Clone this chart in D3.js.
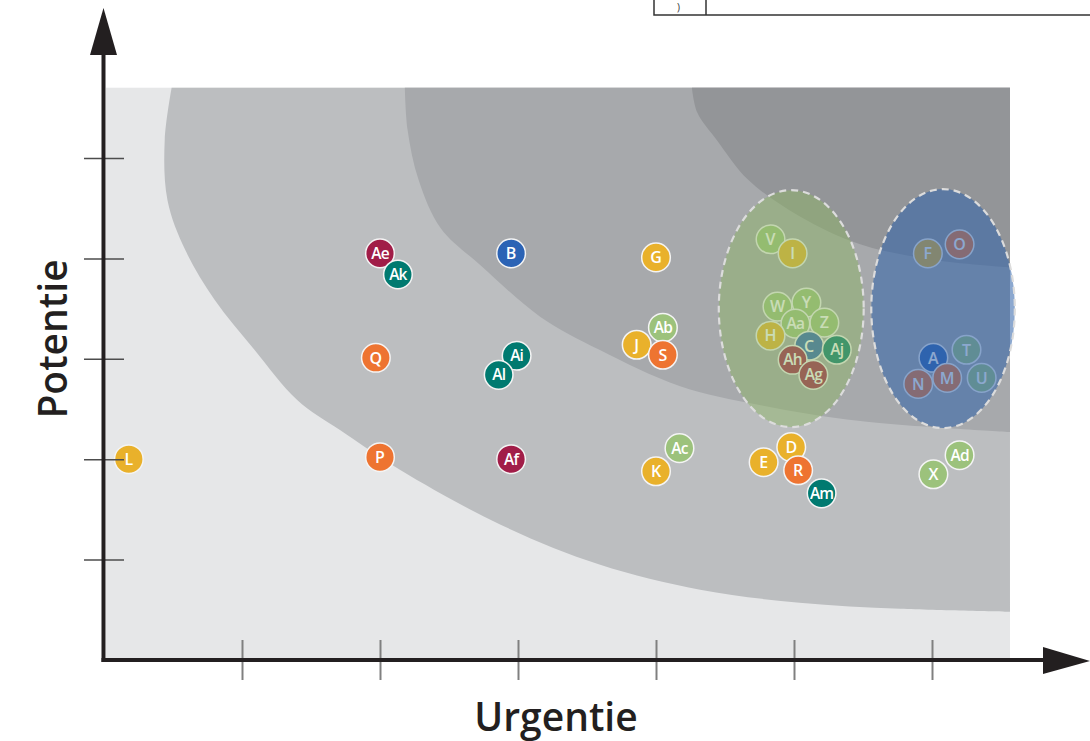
<!DOCTYPE html>
<html>
<head>
<meta charset="utf-8">
<script src="https://cdn.jsdelivr.net/npm/d3@7"></script>
<style>
  body { margin: 0; background: #fff; }
  svg { display: block; }
  .lbl { font-family: "Open Sans", sans-serif; font-weight: 600; fill: #fff; }
  .title { font-family: "Open Sans", sans-serif; font-weight: 600; fill: #231f20; }
</style>
</head>
<body>
<svg id="chart"></svg>
<script>
/**
 * Data
  */
const labels    = ["L", "Ae", "Ak", "Q", "P", "B", "Ai", "Al", "Af", "G", "Ab", "J", "S", "Ac", "K",
                   "V", "I", "W", "Y", "Z", "Aa", "H", "C", "Aj", "Ah", "Ag", "E", "D", "R", "Am",
                   "X", "Ad", "F", "O", "A", "T", "U", "M", "N"];
const urgentie  = [0.18, 2.00, 2.13, 1.97, 2.00, 2.95, 2.99, 2.86, 2.95, 4.00, 4.05, 3.86, 4.05, 4.17, 4.00,
                   4.83, 4.99, 4.88, 5.09, 5.22, 5.01, 4.83, 5.11, 5.31, 4.99, 5.14, 4.78, 4.98, 5.03, 5.20,
                   6.01, 6.20, 5.97, 6.20, 6.01, 6.25, 6.36, 6.11, 5.90];
const potentie  = [2.00, 4.05, 3.84, 3.01, 2.02, 4.05, 3.03, 2.84, 2.00, 4.01, 3.31, 3.14, 3.04, 2.11, 1.88,
                   4.19, 4.05, 3.52, 3.56, 3.36, 3.35, 3.23, 3.13, 3.09, 2.99, 2.84, 1.97, 2.12, 1.89, 1.66,
                   1.85, 2.04, 4.05, 4.14, 3.01, 3.09, 2.81, 2.81, 2.75];
const groups    = ["gold", "crimson", "teal", "orange", "orange", "blue", "teal", "teal", "crimson", "gold", "lgreen", "gold", "orange", "lgreen", "gold",
                   "lgreen", "gold", "lgreen", "lgreen", "lgreen", "lgreen", "gold", "blue", "teal", "crimson", "crimson", "gold", "gold", "orange", "teal",
                   "lgreen", "lgreen", "gold", "orange", "blue", "lgreen", "lgreen", "orange", "orange"];

const groupNames  = ["gold", "orange", "crimson", "teal", "blue", "lgreen"];
const groupColors = ["#e9b12b", "#ee7431", "#a11d48", "#007a70", "#2b63b5", "#9cc27c"];

// zone boundaries (urgentie, potentie)
const zone1 = [[0.49, 5.70], [0.44, 5.18], [0.46, 4.58], [0.59, 4.08], [0.80, 3.59], [1.09, 3.09], [1.40, 2.59],
               [1.71, 2.29], [2.15, 1.89], [2.87, 1.35], [3.59, 0.95], [4.32, 0.70], [5.04, 0.57], [5.77, 0.51], [6.565, 0.48]];
const zone2 = [[2.18, 5.70], [2.20, 5.28], [2.28, 4.78], [2.44, 4.30], [2.73, 3.93], [3.16, 3.42], [3.59, 3.09],
               [4.17, 2.73], [4.75, 2.54], [5.48, 2.38], [6.565, 2.27]];
const zone3 = [[4.26, 5.70], [4.30, 5.45], [4.44, 5.18], [4.67, 4.78], [5.04, 4.42], [5.48, 4.14], [5.99, 3.99], [6.565, 3.91]];
const zoneColors = ["#bcbec0", "#a7a9ac", "#939598"];

// clusters: centre and radii in axis units
const clusterX  = [4.98, 6.08];
const clusterY  = [3.50, 3.50];
const clusterRX = [0.525, 0.52];
const clusterRY = [1.18, 1.19];
const clusterColors = ["#8cb464", "#3264aa"];
const clusterOpacity = [0.47, 0.56];

const xTicks = [1, 2, 3, 4, 5, 6];
const yTicks = [1, 2, 3, 4, 5];
const xMax = 6.565;
const yMax = 5.7;

/**
 * canvas
  */
const width = 1090;
const height = 741;
const svg = d3.select("#chart").attr("width", width).attr("height", height);

const x = d3.scaleLinear().domain([0, 6]).range([104, 932]);
const y = d3.scaleLinear().domain([0, 5]).range([660, 158]);
const color = d3.scaleOrdinal().domain(groupNames).range(groupColors);

// background
svg.append("rect")
   .attr("x", x(0) + 2)
   .attr("y", y(yMax))
   .attr("width", x(xMax) - x(0) - 2)
   .attr("height", y(0) - y(yMax) - 2)
   .attr("fill", "#e6e7e8");

const zoneLine = d3.line()
                   .x(d => x(d[0]))
                   .y(d => y(d[1]))
                   .curve(d3.curveCatmullRom);

[zone1, zone2, zone3].forEach((z, i) => {
    svg.append("path")
       .attr("d", zoneLine(z) + "L" + x(xMax) + "," + y(yMax) + "Z")
       .attr("fill", zoneColors[i]);
});

/**
 * points
  */
const pts = svg.append("g")
               .selectAll("g")
               .data(labels.map((l, i) => ({ label: l, u: urgentie[i], p: potentie[i], g: groups[i] })))
               .enter()
               .append("g")
               .attr("transform", d => "translate(" + x(d.u) + "," + y(d.p) + ")");

pts.append("circle")
   .attr("r", 14.3)
   .attr("fill", d => color(d.g))
   .attr("stroke", "#f4f4f4")
   .attr("stroke-width", 1.5);

pts.append("text")
   .attr("class", "lbl")
   .attr("text-anchor", "middle")
   .attr("dy", "0.36em")
   .attr("font-size", d => d.label.length > 1 ? 15.5 : 16)
   .attr("letter-spacing", d => d.label.length > 1 ? -0.8 : 0)
   .text(d => d.label);

// clusters lie over the points
clusterX.forEach((cx, i) => {
    svg.append("ellipse")
       .attr("cx", x(cx))
       .attr("cy", y(clusterY[i]))
       .attr("rx", x(clusterRX[i]) - x(0))
       .attr("ry", y(0) - y(clusterRY[i]))
       .attr("fill", clusterColors[i])
       .attr("fill-opacity", clusterOpacity[i])
       .attr("stroke", "#dcdcdc")
       .attr("stroke-width", 2.2)
       .attr("stroke-dasharray", "7,5");
});

/**
 * axes
  */
const xAxis = d3.axisBottom(x).tickValues(xTicks).tickSize(40).tickFormat("");
svg.append("g")
   .attr("transform", "translate(0," + (y(0) - 20) + ")")
   .call(xAxis)
   .call(g => g.select(".domain").remove())
   .call(g => g.selectAll("line").attr("stroke", "#808080").attr("stroke-width", 2));

const yAxis = d3.axisLeft(y).tickValues(yTicks).tickSize(40).tickFormat("");
svg.append("g")
   .attr("transform", "translate(" + (x(0) + 20) + ",0)")
   .call(yAxis)
   .call(g => g.select(".domain").remove())
   .call(g => g.selectAll("line").attr("stroke", "#4d4d4d").attr("stroke-width", 1.5));

// axis lines with arrows
const x0 = x(0) - 0.5, y0 = y(0);
svg.append("line")
   .attr("x1", x0).attr("y1", y0 + 2)
   .attr("x2", x0).attr("y2", 55)
   .attr("stroke", "#231f20").attr("stroke-width", 4);
svg.append("path")
   .attr("d", "M" + x0 + ",8L" + (x0 + 13.5) + ",55L" + (x0 - 13.5) + ",55Z")
   .attr("fill", "#231f20");

svg.append("line")
   .attr("x1", x0 - 2).attr("y1", y0)
   .attr("x2", 1045).attr("y2", y0)
   .attr("stroke", "#231f20").attr("stroke-width", 4);
svg.append("path")
   .attr("d", "M1090," + (y0 + 1) + "L1043," + (y0 - 13) + "L1043," + (y0 + 14) + "Z")
   .attr("fill", "#231f20");

// titles
svg.append("text")
   .attr("class", "title")
   .attr("x", 556)
   .attr("y", 731)
   .attr("text-anchor", "middle")
   .attr("font-size", 39)
   .text("Urgentie");

svg.append("text")
   .attr("class", "title")
   .attr("transform", "translate(67,339) rotate(-90)")
   .attr("text-anchor", "middle")
   .attr("font-size", 39)
   .text("Potentie");

/**
 * table fragment at the top
  */
const tbl = svg.append("g").attr("stroke", "#333").attr("stroke-width", 1.5).attr("fill", "none");
tbl.append("path").attr("d", "M654,0V15H1092");
tbl.append("path").attr("d", "M706,0V15");
svg.append("text")
   .attr("x", 677)
   .attr("y", 11)
   .attr("font-family", "Open Sans, sans-serif")
   .attr("font-size", 10)
   .attr("fill", "#333")
   .text(")");
</script>
</body>
</html>
